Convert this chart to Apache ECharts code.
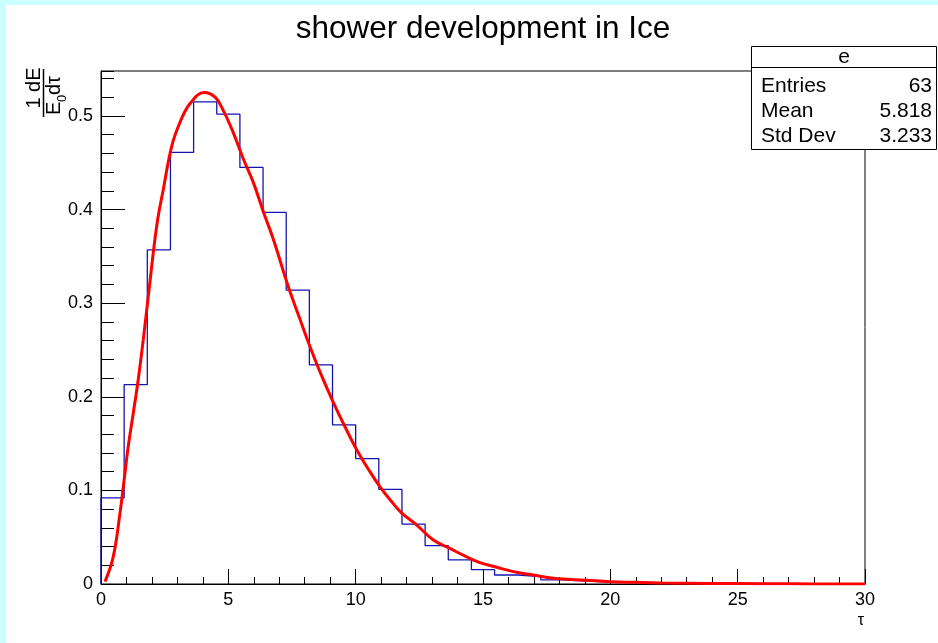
<!DOCTYPE html>
<html><head><meta charset="utf-8">
<script src="https://cdn.jsdelivr.net/npm/echarts@6/dist/echarts.min.js"></script>
<style>html,body{margin:0;padding:0;background:#ccffff}#c{width:938px;height:643px}</style>
</head><body><div id="c"></div>
<script>
const titleText = 'shower development in Ice';
const xMin = 0, xMax = 30, nBins = 33;
const binValues = [0.092,0.213,0.357,0.461,0.515,0.502,0.445,0.397,0.314,0.234,0.170,0.134,0.101,0.064,0.041,0.0257,0.0153,0.0096,0.0078,0.0043,0.003,0.002,0.002,0.0015,0,0,0,0,0,0,0,0,0];
const curveX = [0.157,0.48,0.746,0.877,1.07,1.27,1.46,1.66,1.86,2.19,2.45,2.78,3.10,3.49,4.05,4.48,4.80,5.19,5.59,5.98,6.37,6.77,7.35,7.81,8.20,8.67,9.19,9.58,10.04,10.56,10.95,11.35,11.81,12.40,13.05,13.70,14.36,14.88,15.54,16.19,16.97,17.76,19.07,20.0,21.0,22.0,24.0,26.0,28.0,30.0];
const curveY = [0.0025,0.029,0.0757,0.104,0.147,0.183,0.218,0.261,0.308,0.383,0.422,0.468,0.493,0.513,0.525,0.520,0.506,0.4825,0.454,0.429,0.398,0.368,0.318,0.283,0.254,0.222,0.190,0.168,0.1435,0.120,0.104,0.090,0.0757,0.063,0.047,0.038,0.029,0.0228,0.0179,0.0132,0.0096,0.0061,0.0040,0.0025,0.0018,0.0012,0.0006,0.0003,0.00012,0.00005];
const xTickLabels = ['0','5','10','15','20','25','30'];
const yTickLabels = ['0','0.1','0.2','0.3','0.4','0.5'];
const statsName = 'e';
const statsLabels = ['Entries','Mean','Std Dev'];
const statsValues = ['63','5.818','3.233'];
const yMax = 0.548;

const FF = '"Liberation Sans", Arial, Helvetica, sans-serif';
const binW = (xMax - xMin) / nBins;
let lastNZ = 0;
binValues.forEach((v, i) => { if (v > 0) lastNZ = i; });
const histPts = [[xMin, 0]];
for (let i = 0; i <= lastNZ; i++) {
  const l = xMin + i * binW, r = l + binW;
  histPts.push([l, binValues[i]], [r, binValues[i]]);
}
histPts.push([xMin + (lastNZ + 1) * binW, 0]);

const chart = echarts.init(document.getElementById('c'), null, {renderer: 'canvas'});
const statsChildren = [
  {type: 'rect', shape: {x: 751.5, y: 46.5, width: 185, height: 103}, style: {fill: '#fff', stroke: '#000', lineWidth: 1}},
  {type: 'line', shape: {x1: 751.5, y1: 67.5, x2: 936.5, y2: 67.5}, style: {stroke: '#000', lineWidth: 1}},
  {type: 'text', x: 844, y: 57, style: {text: statsName, font: '21px ' + FF, align: 'center', verticalAlign: 'middle', fill: '#000'}}
];
statsLabels.forEach((lab, i) => {
  const y = 86 + i * 25.3;
  statsChildren.push({type: 'text', x: 761, y: y, style: {text: lab, font: '21px ' + FF, align: 'left', verticalAlign: 'middle', fill: '#000'}});
  statsChildren.push({type: 'text', x: 932, y: y, style: {text: statsValues[i], font: '21px ' + FF, align: 'right', verticalAlign: 'middle', fill: '#000'}});
});

chart.setOption({
  animation: false,
  backgroundColor: '#ccffff',
  title: {text: titleText, left: 478, textAlign: 'center', top: 8,
    textStyle: {fontFamily: FF, fontSize: 31.5, fontWeight: 'normal', color: '#000'}},
  grid: {left: 101, right: 73, top: 71, bottom: 59, show: true, borderColor: '#000', borderWidth: 1, backgroundColor: 'transparent'},
  xAxis: [{
    type: 'value', min: xMin, max: xMax, interval: 5,
    axisLine: {show: true, onZero: false, lineStyle: {color: '#000', width: 1}},
    axisTick: {show: true, inside: true, length: 15, lineStyle: {color: '#000', width: 1}},
    minorTick: {show: true, splitNumber: 5, length: 7, lineStyle: {color: '#000', width: 1}},
    splitLine: {show: false},
    axisLabel: {margin: 7, fontFamily: FF, fontSize: 18, color: '#000',
      formatter: v => xTickLabels[Math.round(v / 5)] ?? ''}
  }],
  yAxis: [{
    type: 'value', min: 0, max: yMax, interval: 0.1,
    axisLine: {show: true, onZero: false, lineStyle: {color: '#000', width: 1}},
    axisTick: {show: true, inside: true, length: 24, lineStyle: {color: '#000', width: 1}},
    splitLine: {show: false},
    axisLabel: {margin: 8, showMaxLabel: false, fontFamily: FF, fontSize: 18, color: '#000',
      formatter: v => { const k = Math.round(v / 0.1); return Math.abs(v - k * 0.1) < 1e-6 ? (yTickLabels[k] ?? '') : ''; }}
  }, {
    type: 'value', min: 0, max: yMax, interval: 0.02, position: 'left',
    axisLine: {show: false},
    axisTick: {show: true, inside: true, length: 13, lineStyle: {color: '#000', width: 1}},
    splitLine: {show: false},
    axisLabel: {show: false}
  }],
  series: [{
    type: 'line', data: histPts, xAxisIndex: 0, yAxisIndex: 0,
    showSymbol: false, symbol: 'none',
    lineStyle: {color: '#1414b0', width: 1.3}, z: 3
  }, {
    type: 'line', data: curveX.map((x, i) => [x, curveY[i]]), xAxisIndex: 0, yAxisIndex: 0,
    showSymbol: false, symbol: 'none', smooth: 0.4,
    lineStyle: {color: '#ff0000', width: 3}, z: 4
  }],
  graphic: [
    {type: 'rect', z: -100, shape: {x: 6, y: 5, width: 932, height: 638}, style: {fill: '#fff'}},
    {type: 'group', z: 100, children: statsChildren},
    {type: 'group', x: 43.5, y: 93, rotation: Math.PI / 2, z: 100, children: [
      {type: 'line', shape: {x1: -24, y1: 0, x2: 24, y2: 0}, style: {stroke: '#000', lineWidth: 1.5}},
      {type: 'text', x: 5, y: -9, style: {text: '1 dE', font: '20px ' + FF, align: 'center', verticalAlign: 'middle', fill: '#000'}},
      {type: 'text', x: -22, y: 11, style: {text: 'E', font: '20px ' + FF, align: 'left', verticalAlign: 'middle', fill: '#000'}},
      {type: 'text', x: -9, y: 19, style: {text: '0', font: '13px ' + FF, align: 'left', verticalAlign: 'middle', fill: '#000'}},
      {type: 'text', x: -2, y: 11, style: {text: 'dτ', font: '20px ' + FF, align: 'left', verticalAlign: 'middle', fill: '#000'}}
    ]},
    {type: 'text', x: 861, y: 621, z: 100, style: {text: 'τ', font: '16px ' + FF, align: 'center', verticalAlign: 'middle', fill: '#000'}}
  ]
});
</script></body></html>
